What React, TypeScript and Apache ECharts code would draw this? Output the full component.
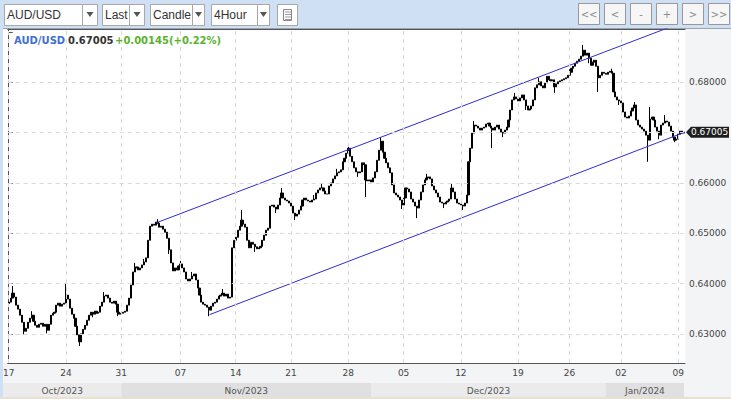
import { useEffect, useRef } from 'react';
import * as echarts from 'echarts';

// 4-hour closes, AUD/USD, 17 Oct 2023 -> 9 Jan 2024
const closes = [
  0.6363,0.6371,0.6381,0.6373,0.6357,0.6349,0.6337,0.6323,0.6305,0.6311,
  0.6323,0.6331,0.6337,0.6325,0.6317,0.6313,0.6319,0.6321,0.6315,0.6319,
  0.6307,0.6319,0.6337,0.6341,0.6343,0.6357,0.6361,0.6355,0.6359,0.6361,
  0.6377,0.6369,0.6351,0.6339,0.6331,0.6315,0.6298,0.6284,0.6300,0.6309,
  0.6317,0.6327,0.6337,0.6343,0.6339,0.6345,0.6341,0.6343,0.6355,0.6363,
  0.6375,0.6377,0.6371,0.6363,0.6361,0.6365,0.6359,0.6343,0.6339,0.6341,
  0.6343,0.6345,0.6357,0.6371,0.6397,0.6423,0.6431,0.6433,0.6427,0.6431,
  0.6437,0.6443,0.6451,0.6486,0.6514,0.6518,0.6516,0.6522,0.6520,0.6512,
  0.6514,0.6508,0.6502,0.6490,0.6467,0.6441,0.6425,0.6431,0.6427,0.6435,
  0.6439,0.6431,0.6423,0.6409,0.6405,0.6409,0.6415,0.6419,0.6407,0.6391,
  0.6377,0.6363,0.6359,0.6357,0.6353,0.6347,0.6355,0.6361,0.6363,0.6369,
  0.6375,0.6377,0.6381,0.6375,0.6379,0.6371,0.6373,0.6471,0.6486,0.6492,
  0.6506,0.6514,0.6526,0.6518,0.6512,0.6486,0.6471,0.6482,0.6478,0.6473,
  0.6469,0.6471,0.6474,0.6486,0.6496,0.6506,0.6510,0.6554,0.6556,0.6552,
  0.6548,0.6556,0.6570,0.6580,0.6570,0.6566,0.6564,0.6560,0.6554,0.6540,
  0.6534,0.6538,0.6546,0.6554,0.6566,0.6570,0.6566,0.6564,0.6562,0.6566,
  0.6568,0.6580,0.6586,0.6590,0.6590,0.6584,0.6578,0.6578,0.6594,0.6600,
  0.6608,0.6614,0.6620,0.6622,0.6626,0.6642,0.6649,0.6659,0.6669,0.6653,
  0.6642,0.6630,0.6622,0.6620,0.6622,0.6640,0.6636,0.6606,0.6604,0.6606,
  0.6602,0.6610,0.6622,0.6645,0.6665,0.6683,0.6661,0.6649,0.6640,0.6630,
  0.6620,0.6596,0.6580,0.6576,0.6572,0.6566,0.6556,0.6570,0.6590,0.6588,
  0.6582,0.6568,0.6562,0.6554,0.6550,0.6566,0.6582,0.6596,0.6606,0.6610,
  0.6612,0.6608,0.6594,0.6586,0.6580,0.6572,0.6562,0.6560,0.6558,0.6562,
  0.6564,0.6568,0.6590,0.6582,0.6568,0.6560,0.6558,0.6556,0.6554,0.6560,
  0.6576,0.6642,0.6669,0.6699,0.6715,0.6713,0.6709,0.6705,0.6709,0.6711,
  0.6717,0.6719,0.6713,0.6709,0.6705,0.6711,0.6715,0.6707,0.6701,0.6699,
  0.6705,0.6711,0.6725,0.6745,0.6765,0.6771,0.6767,0.6763,0.6769,0.6775,
  0.6765,0.6753,0.6745,0.6747,0.6753,0.6765,0.6789,0.6795,0.6801,0.6793,
  0.6789,0.6799,0.6812,0.6805,0.6803,0.6805,0.6791,0.6797,0.6801,0.6803,
  0.6805,0.6807,0.6809,0.6814,0.6820,0.6828,0.6832,0.6838,0.6842,0.6846,
  0.6852,0.6864,0.6854,0.6858,0.6848,0.6834,0.6840,0.6844,0.6832,0.6809,
  0.6814,0.6820,0.6818,0.6816,0.6820,0.6822,0.6818,0.6781,0.6771,0.6765,
  0.6763,0.6759,0.6741,0.6731,0.6729,0.6733,0.6743,0.6749,0.6755,0.6725,
  0.6715,0.6711,0.6707,0.6703,0.6695,0.6685,0.6727,0.6731,0.6725,0.6711,
  0.6703,0.6695,0.6715,0.6719,0.6723,0.6721,0.6713,0.6703,0.6691,0.6685,
  0.6687,0.6697,0.6703,0.6699,0.67005,
];
const firstOpen = 0.6360;
// notable wick extremes [candle index, price]
const spikes: [number, number][] = [
  [2, 0.6395], [8, 0.6299], [12, 0.6345], [20, 0.6301], [30, 0.6401], [37, 0.6276],
  [44, 0.6333], [50, 0.6383], [57, 0.6335], [66, 0.6441], [71, 0.6449], [78, 0.6528],
  [84, 0.6459], [90, 0.6445], [96, 0.6423], [105, 0.6335], [112, 0.6389], [122, 0.6546],
  [129, 0.6463], [140, 0.6540], [143, 0.6590], [150, 0.6526], [160, 0.6576], [164, 0.6598],
  [172, 0.6628], [178, 0.6679], [183, 0.6612], [187, 0.6572], [195, 0.6691], [206, 0.6548],
  [214, 0.6530], [219, 0.6618], [228, 0.6550], [232, 0.6598], [238, 0.6546], [244, 0.6723],
  [253, 0.6669], [259, 0.6691], [265, 0.6779], [271, 0.6745], [278, 0.6809], [286, 0.6779],
  [294, 0.6826], [301, 0.6874], [304, 0.6838], [309, 0.6781], [316, 0.6827], [320, 0.6755],
  [328, 0.6761], [335, 0.6642], [336, 0.6751], [341, 0.6687], [344, 0.6735], [349, 0.6681],
];
// weekly date ticks [candle index, label]
const weekTicks: [number, string][] = [
  [0, '17'], [30, '24'], [59, '31'], [90, '07'], [119, '14'], [148, '21'], [178, '28'],
  [207, '05'], [237, '12'], [267, '19'], [294, '26'], [321, '02'], [351, '09'],
];
// month bands [label, from index, to index]
const months: [string, number, number][] = [
  ['Oct/2023', -2, 59], ['Nov/2023', 59, 190], ['Dec/2023', 190, 313], ['Jan/2024', 313, 354],
];
const priceTicks = [0.63, 0.64, 0.65, 0.66, 0.67, 0.68];
const yMin = 0.6242;
const yMax = 0.6906;
// channel lines drawn on the chart [candle index, price]
const upperChannel = [[77.6, 0.6521], [355, 0.6922]];
const lowerChannel = [[105.2, 0.6338], [354.5, 0.6701]];
const symbol = 'AUD/USD';
const lastPrice = 0.67005;
const changeText = '+0.00145(+0.22%)';
const dropdowns: [string, number, number, number][] = [
  ['AUD/USD', 4, 93, 82], ['Last', 102, 42, 129], ['Candle', 150, 54, 192], ['4Hour', 211, 58, 257],
];
const navButtons = ['<<', '<', '-', '+', '>', '>>'];

const W = 731, H = 399;
const GL = 3, GR = 685, GT = 29, GB = 363;
const FONT = 'DejaVu Sans';

export default function App() {
  const ref = useRef<HTMLDivElement>(null);
  useEffect(() => {
    document.body.style.margin = '0';
    const chart = echarts.init(ref.current!, null, { renderer: 'svg', width: W, height: H });
    const N = closes.length;
    const cats = closes.map((_, i) => String(i));
    const candles = closes.map((c, i) => {
      const o = i === 0 ? firstOpen : closes[i - 1];
      let hi = Math.max(o, c), lo = Math.min(o, c);
      for (const s of spikes) if (s[0] === i) { hi = Math.max(hi, s[1]); lo = Math.min(lo, s[1]); }
      return [o, c, lo, hi];
    });
    const tickSet = new Set(weekTicks.map(t => t[0]));
    const tickLabel = new Map(weekTicks.map(t => [String(t[0]), t[1]]));

    const staticGraphics: any[] = [];
    // panel + plot backgrounds
    staticGraphics.push({ type: 'rect', z: -5, shape: { x: GL, y: 28, width: W - GL, height: H - 28 }, style: { fill: '#f3f4f6' } });
    staticGraphics.push({ type: 'rect', z: -4, shape: { x: GL, y: GT, width: GR - GL, height: GB - GT }, style: { fill: '#ffffff' } });
    staticGraphics.push({ type: 'rect', z: -4, shape: { x: GL, y: 28, width: W - GL, height: 1 }, style: { fill: '#9aa4b0' } });
    staticGraphics.push({ type: 'rect', z: -4, shape: { x: 0, y: H - 2, width: W, height: 2 }, style: { fill: '#e6e1d3' } });
    // toolbar dropdowns
    for (const [label, x, w, div] of dropdowns) {
      staticGraphics.push({ type: 'rect', z: 10, shape: { x: x + 0.5, y: 4.5, width: w, height: 21 }, style: { fill: '#ffffff', stroke: '#a8a8a8', lineWidth: 1 } });
      staticGraphics.push({ type: 'text', z: 11, x: x + 3, y: 15, style: { text: label, fill: '#333333', font: '12px "Liberation Sans"', textVerticalAlign: 'middle' } });
      staticGraphics.push({ type: 'rect', z: 12, shape: { x: div + 0.5, y: 4.5, width: x + w - div, height: 21 }, style: { fill: '#ffffff', stroke: '#a8a8a8', lineWidth: 1 } });
      const cx = div + (x + w - div) / 2 + 0.5;
      staticGraphics.push({ type: 'polygon', z: 13, shape: { points: [[cx - 3.5, 12], [cx + 3.5, 12], [cx, 17]] }, style: { fill: '#555555' } });
    }
    // table icon button
    staticGraphics.push({ type: 'rect', z: 10, shape: { x: 277.5, y: 4.5, width: 20, height: 21 }, style: { fill: '#ffffff', stroke: '#a8a8a8', lineWidth: 1 } });
    staticGraphics.push({ type: 'rect', z: 11, shape: { x: 283.5, y: 9.5, width: 8, height: 11 }, style: { fill: 'none', stroke: '#888888', lineWidth: 1 } });
    for (let k = 0; k < 4; k++) {
      staticGraphics.push({ type: 'line', z: 11, shape: { x1: 285, y1: 12 + k * 2.5, x2: 291, y2: 12 + k * 2.5 }, style: { stroke: '#9a9a9a', lineWidth: 1 } });
    }
    // nav buttons
    navButtons.forEach((b, k) => {
      const x = 578.5 + k * 26;
      staticGraphics.push({ type: 'rect', z: 10, shape: { x, y: 3.5, width: 21, height: 21 }, style: { fill: '#f6f6f6', stroke: '#999999', lineWidth: 1 } });
      staticGraphics.push({ type: 'text', z: 11, x: x + 10.5, y: 14, style: { text: b, fill: '#8a8a8a', font: '10px "DejaVu Sans"', textAlign: 'center', textVerticalAlign: 'middle' } });
    });
    // legend
    staticGraphics.push({ type: 'text', z: 10, x: 14, y: 40, style: { text: symbol, fill: '#3f6fd6', font: 'bold 10px "DejaVu Sans"', textVerticalAlign: 'middle' } });
    staticGraphics.push({ type: 'text', z: 10, x: 68, y: 40, style: { text: lastPrice.toFixed(5), fill: '#333333', font: 'bold 10px "DejaVu Sans"', textVerticalAlign: 'middle' } });
    staticGraphics.push({ type: 'text', z: 10, x: 115, y: 40, style: { text: changeText, fill: '#5ab22c', font: 'bold 10px "DejaVu Sans"', textVerticalAlign: 'middle' } });

    // axis labels: only the round ticks, and not the one hidden under the last-price marker
    const showLabel = (v: number) =>
      priceTicks.some(t => Math.abs(t - v) < 1e-7) && Math.abs(v - lastPrice) > 0.002;

    const option: any = {
      animation: false,
      backgroundColor: '#cfdff4',
      grid: { left: GL, right: W - GR, top: GT, bottom: H - GB, containLabel: false },
      xAxis: [
        {
          type: 'category', data: cats, boundaryGap: true,
          axisLine: { lineStyle: { color: '#555555', width: 1 } },
          axisTick: { interval: (i: number) => tickSet.has(i), alignWithLabel: true, length: 3, lineStyle: { color: '#777777' } },
          axisLabel: { interval: (i: number) => tickSet.has(i), formatter: (v: string) => tickLabel.get(v) ?? '', color: '#444444', fontSize: 9, fontFamily: FONT, margin: 5 },
          splitLine: { show: false },
        },
        {
          type: 'value', min: -0.5, max: N - 0.5, position: 'top',
          axisLine: { show: true, onZero: false, lineStyle: { color: '#555555' } },
          axisTick: { show: false }, axisLabel: { show: false }, splitLine: { show: false },
        },
      ],
      yAxis: {
        type: 'value', position: 'right', min: yMin, max: yMax, splitNumber: 6,
        axisLine: { show: true, lineStyle: { color: '#555555' } },
        axisTick: { show: true, length: 4, lineStyle: { color: '#555555' } },
        axisLabel: { formatter: (v: number) => (showLabel(v) ? v.toFixed(5) : ''), color: '#444444', fontSize: 9, fontFamily: FONT, margin: 4 },
        splitLine: { show: false },
      },
      series: [
        {
          type: 'line', xAxisIndex: 1, data: [], z: 1, silent: true,
          markLine: {
            silent: true, symbol: ['none', 'none'], label: { show: false },
            lineStyle: { color: '#d9d9d9', type: [4, 4], width: 1 },
            data: [
              ...priceTicks.map(p => ({ yAxis: p })),
              ...weekTicks.map(([i]) => ({ xAxis: i })),
            ],
          },
        },
        {
          type: 'candlestick', data: candles, barWidth: 1.6, z: 3,
          itemStyle: { color: '#000000', color0: '#000000', borderColor: '#000000', borderColor0: '#000000', borderWidth: 1 },
        },
        { type: 'line', xAxisIndex: 1, data: upperChannel, symbol: 'none', z: 4, lineStyle: { color: '#2d2dd2', width: 1 } },
        { type: 'line', xAxisIndex: 1, data: lowerChannel, symbol: 'none', z: 4, lineStyle: { color: '#2d2dd2', width: 1 } },
      ],
      graphic: staticGraphics,
    };
    chart.setOption(option);

    const dyn: any[] = [];
    months.forEach(([label, a, b], k) => {
      const x1 = k === 0 ? GL : (chart.convertToPixel({ xAxisIndex: 1 }, a) as number);
      const x2 = chart.convertToPixel({ xAxisIndex: 1 }, b) as number;
      dyn.push({ type: 'rect', z: -3, shape: { x: x1, y: 383, width: x2 - x1, height: 14 }, style: { fill: k % 2 === 0 ? '#ebebeb' : '#e0e0e0' } });
      dyn.push({ type: 'text', z: 5, x: (x1 + x2) / 2, y: 390.5, style: { text: label, fill: '#555555', font: '9px "DejaVu Sans"', textAlign: 'center', textVerticalAlign: 'middle' } });
    });
    const py = chart.convertToPixel({ yAxisIndex: 0 }, lastPrice) as number;
    dyn.push({ type: 'polygon', z: 20, shape: { points: [[GR + 1, py], [GR + 6, py - 5.5], [729, py - 5.5], [729, py + 5.5], [GR + 6, py + 5.5]] }, style: { fill: '#1e1e1e' } });
    dyn.push({ type: 'text', z: 21, x: GR + 6, y: py, style: { text: lastPrice.toFixed(5), fill: '#ffffff', font: '9px "DejaVu Sans"', textVerticalAlign: 'middle' } });
    chart.setOption({ graphic: [...staticGraphics, ...dyn] });

    return () => chart.dispose();
  }, []);
  return <div ref={ref} style={{ position: 'absolute', left: 0, top: 0, width: W, height: H }} />;
}
